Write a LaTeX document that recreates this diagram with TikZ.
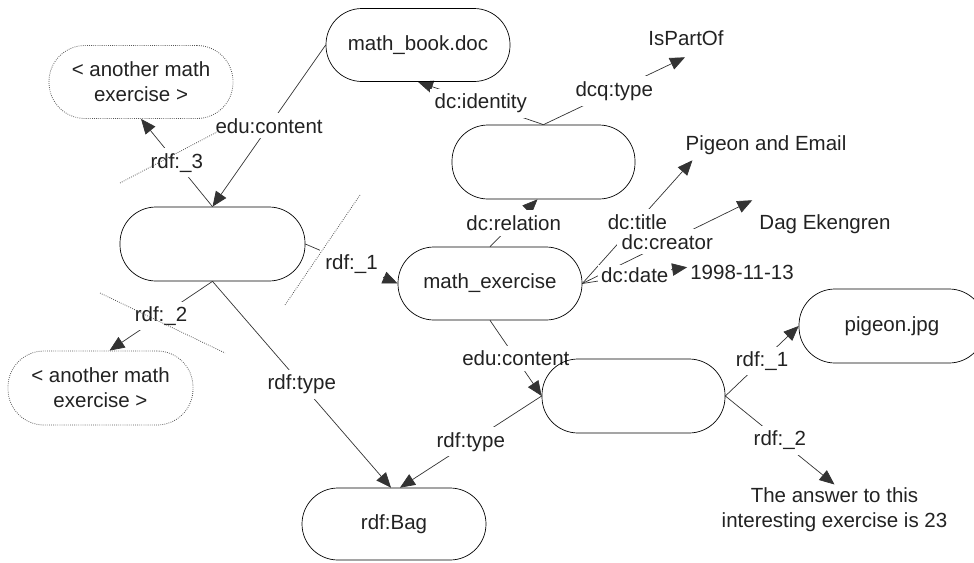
\documentclass[tikz,border=0pt]{standalone}
\usepackage{fontspec}
\setmainfont{Liberation Sans}
\usetikzlibrary{arrows.meta,calc}
\pgfdeclarelayer{bg}
\pgfsetlayers{bg,main}
\definecolor{ink}{HTML}{222222}
\definecolor{edgecol}{HTML}{333333}
\definecolor{dotcol}{HTML}{555555}
\begin{document}
\begin{tikzpicture}[x=1pt,y=-1pt,
  every node/.style={font=\fontsize{20.5}{25}\selectfont, text=ink},
  res/.style={draw=black, line width=0.7pt, rounded corners=36pt, minimum width=184pt, minimum height=73pt, inner sep=0pt, align=center},
  ghost/.style={res, draw=dotcol, dash pattern=on 0.8pt off 1.3pt, line width=0.8pt},
  lit/.style={inner sep=0pt, anchor=base},
  lbl/.style={fill=white, inner sep=5pt},
  arr/.style={draw=edgecol, line width=0.7pt, -{Triangle[length=15pt,width=12.5pt]}},
  sepline/.style={draw=dotcol, dash pattern=on 0.8pt off 1.3pt, line width=0.8pt}]
\useasboundingbox (0,0) rectangle (974,562);

% resource nodes
\node[res] (book) at (418,45) {math\_book.doc};
\node[ghost] (A1) at (141,82) {< another math\\exercise >};
\node[res, minimum width=185pt, minimum height=74pt] (L) at (212.5,244) {};
\node[res, minimum width=183pt, minimum height=74pt] (M) at (543.5,162) {};
\node[res] (E) at (490,283.5) {math\_exercise};
\node[res, minimum width=183pt, minimum height=74pt] (B) at (633.5,396) {};
\node[res, minimum width=186pt, minimum height=74pt] (pig) at (892,326) {pigeon.jpg};
\node[res, minimum height=72pt] (bag) at (394,524) {rdf:Bag};
\node[ghost, minimum width=185pt, minimum height=74pt] (A2) at (100.5,388) {< another math\\exercise >};

% literal nodes
\node[lit] (ispart) at (686,45.3) {IsPartOf};
\node[lit] (pigtext) at (766,150.3) {Pigeon and Email};
\node[lit] (dag) at (825,229.3) {Dag Ekengren};
\node[lit] (date) at (742,279.3) {1998-11-13};
\node[inner sep=0pt, anchor=north, align=center] (ans) at (834.5,487.5) {The answer to this\\interesting exercise is 23};

\begin{pgfonlayer}{bg}
\draw[arr] (book.west) -- node[lbl]{edu:content} (L.north);
\draw[arr] (L.north) -- node[lbl]{rdf:\_3} (A1.south);
\draw[arr] (L.east) -- node[lbl]{rdf:\_1} (E.west);
\draw[arr] (L.south) -- node[lbl]{rdf:\_2} ($(A2.north)+(9,0)$);
\draw[arr] (L.south) -- node[lbl]{rdf:type} ($(bag.north)+(-3,0)$);
\draw[arr] (M.north) -- node[lbl]{dc:identity} (book.south);
\draw[arr] (M.north) -- node[lbl]{dcq:type} ($(ispart.base)+(-1,12)$);
\draw[arr] (E.north) -- node[lbl]{dc:relation} ($(M.south)+(-6,0)$);
\draw[arr] (E.east) -- node[lbl]{dc:title} ($(pigtext.base west)+(7,10)$);
\draw[arr] (E.east) -- node[lbl]{dc:creator} ($(dag.north west)+(-7,-14)$);
\draw[arr] (E.east) -- node[lbl, inner sep=3pt]{dc:date} ($(date.west)+(-3,-5)$);
\draw[arr] (E.south) -- node[lbl]{edu:content} (B.west);
\draw[arr] (B.west) -- node[lbl]{rdf:type} ($(bag.north)+(6,0)$);
\draw[arr] (B.east) -- node[lbl]{rdf:\_1} (pig.west);
\draw[arr] (B.east) -- node[lbl]{rdf:\_2} ($(ans.north)+(0,-3)$);
\end{pgfonlayer}

% dotted separators
\coordinate (s1a) at (120,183); \coordinate (s1b) at (217,132);
\coordinate (s2a) at (360,195); \coordinate (s2b) at (285,305);
\coordinate (s3a) at (100,293); \coordinate (s3b) at (225,353);
\draw[sepline] (s1a) -- (s1b);
\draw[sepline] (s2a) -- (s2b);
\draw[sepline] (s3a) -- (s3b);
\end{tikzpicture}
\end{document}
